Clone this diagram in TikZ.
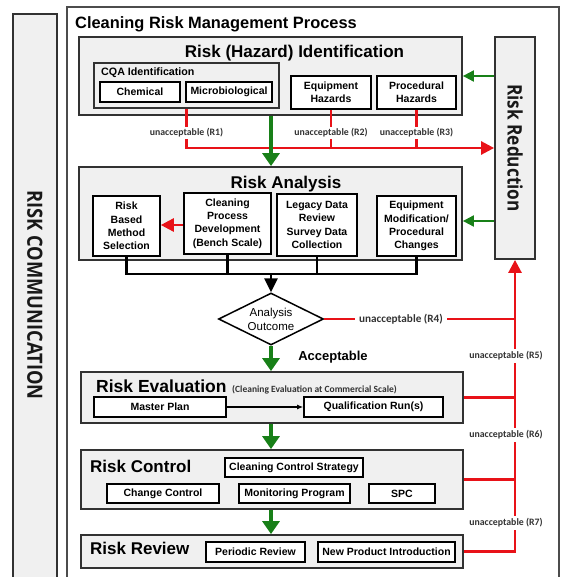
\documentclass[tikz,border=0pt]{standalone}
\usepackage{fontspec}
\setmainfont{Liberation Sans}
\newfontfamily\lblfont{Carlito}
\newfontfamily\commfont{Open Sans}
\usetikzlibrary{arrows.meta,shapes.geometric}
\definecolor{boxfill}{RGB}{240,240,240}
\definecolor{rred}{RGB}{232,18,24}
\definecolor{ggreen}{RGB}{24,128,24}
\definecolor{edge}{RGB}{50,50,50}
\begin{document}
\begin{tikzpicture}[x=1pt,y=-1pt,
 big/.style={draw=edge,line width=1.8pt,fill=boxfill,inner sep=0pt},
 sub/.style={draw=black,line width=1.6pt,fill=white,inner sep=0pt,align=center,font=\bfseries\fontsize{10.5}{13.3}\selectfont},
 ttl/.style={inner sep=0pt,font=\bfseries\fontsize{17}{20}\selectfont},
 lbl/.style={fill=white,inner sep=1.5pt,font=\lblfont\bfseries\fontsize{9.8}{11}\selectfont,text=black!80},
 redl/.style={draw=rred,line width=2.6pt},
 redarr/.style={redl,-{Triangle[width=13pt,length=13pt]}},
 grnarr/.style={draw=ggreen,line width=4pt,-{Triangle[width=17pt,length=13pt]}},
 grnsm/.style={draw=ggreen,line width=2pt,-{Triangle[width=11pt,length=11pt]}},
 bus/.style={draw=black,line width=2.6pt}]
\useasboundingbox (0,0) rectangle (568,577);
\clip (0,0) rectangle (568,577);
% left bar
\draw[draw=edge,line width=1.5pt,fill=boxfill] (13,14) rectangle (57,600);
\node[rotate=-90,inner sep=0pt,font=\commfont\bfseries\fontsize{21}{24}\selectfont,text=black!90] (commtxt) at (35,295) {\scalebox{0.87}[1]{RISK COMMUNICATION}};
% main frame
\draw[draw=black!70,line width=1.3pt] (67,7) rectangle (559,600);
\node[inner sep=0pt,anchor=base west,font=\bfseries\fontsize{16.4}{19}\selectfont] (title) at (75,29) {Cleaning Risk Management Process};
% identification
\node[big,minimum width=383pt,minimum height=78pt] (ident) at (270.5,76) {};
\node[ttl,anchor=base] (identt) at (294.5,58) {Risk (Hazard) Identification};
\node[big,line width=1.6pt,minimum width=185pt,minimum height=45pt] (cqa) at (186.5,85.5) {};
\node[inner sep=0pt,anchor=base west,font=\bfseries\fontsize{10.7}{12}\selectfont] (cqat) at (101,76) {CQA Identification};
\node[sub,minimum width=80pt,minimum height=20pt] (chem) at (140,92) {Chemical};
\node[sub,minimum width=86pt,minimum height=20pt] (micro) at (229,92) {Microbiological};
\node[sub,minimum width=80pt,minimum height=33pt] (eqh) at (331,92.5) {Equipment\\Hazards};
\node[sub,minimum width=79pt,minimum height=33pt] (proc) at (416.5,92.5) {Procedural\\Hazards};
% risk reduction
\node[big,minimum width=40pt,minimum height=222pt] (rr) at (515,148) {};
\node[rotate=-90,inner sep=0pt,font=\commfont\bfseries\fontsize{20}{22}\selectfont,text=black!90] (rrt) at (rr.center) {\scalebox{0.86}[1]{Risk Reduction}};
% analysis
\node[big,minimum width=383pt,minimum height=93pt] (anal) at (270.5,213.5) {};
\node[ttl,anchor=base] (analt) at (286,189) {Risk Analysis};
\node[sub,minimum width=67pt,minimum height=60pt] (rbm) at (126.5,226) {Risk\\Based\\Method\\Selection};
\node[sub,minimum width=87pt,minimum height=61pt] (cpd) at (227.5,223.5) {Cleaning\\Process\\Development\\(Bench Scale)};
\node[sub,minimum width=80pt,minimum height=62pt] (leg) at (317,225) {Legacy Data\\Review\\Survey Data\\Collection};
\node[sub,minimum width=79pt,minimum height=60pt] (eqm) at (416.5,226) {Equipment\\Modification/\\Procedural\\Changes};
% diamond
\node[diamond,aspect=2,draw=black,line width=1.5pt,fill=white,inner sep=0pt,minimum width=105pt,minimum height=52pt,align=center,font=\fontsize{11.5}{14}\selectfont] (diam) at (271,319) {Analysis\\Outcome};
\node[inner sep=0pt,font=\bfseries\fontsize{13}{15}\selectfont] (acc) at (333,357) {Acceptable};
% evaluation
\node[big,minimum width=382pt,minimum height=51pt] (eval) at (272,397.5) {};
\node[ttl,anchor=base west,font=\bfseries\fontsize{17.5}{20}\selectfont] (evalt) at (96,392) {Risk Evaluation};
\node[inner sep=0pt,anchor=base west,font=\lblfont\bfseries\fontsize{9.5}{11}\selectfont,text=black!80] (evals) at (232,392) {(Cleaning Evaluation at Commercial Scale)};
\node[sub,minimum width=132pt,minimum height=20pt] (mp) at (160,407) {Master Plan};
\node[sub,minimum width=139pt,minimum height=20pt] (qr) at (373.5,407) {Qualification Run(s)};
% control
\node[big,minimum width=382pt,minimum height=59pt] (ctrl) at (272,479.5) {};
\node[ttl,anchor=base west] (ctrlt) at (90,472) {Risk Control};
\node[sub,minimum width=138pt,minimum height=19pt] (ccs) at (294,467.5) {Cleaning Control Strategy};
\node[sub,minimum width=112pt,minimum height=19pt] (cc) at (163,493.5) {Change Control};
\node[sub,minimum width=111pt,minimum height=19pt] (mon) at (294.5,493.5) {Monitoring Program};
\node[sub,minimum width=66pt,minimum height=19pt] (spc) at (402,493.5) {SPC};
% review
\node[big,minimum width=382pt,minimum height=33pt] (rev) at (272,551.5) {};
\node[ttl,anchor=base west] (revt) at (90,554) {Risk Review};
\node[sub,minimum width=99pt,minimum height=20pt] (per) at (255.5,552) {Periodic Review};
\node[sub,minimum width=137pt,minimum height=20pt] (npi) at (386.5,552) {New Product Introduction};
% coordinates
\coordinate (busL) at (126.5,274);
\coordinate (ga) at (0,221);
\coordinate (gx) at (271,0);
% connectors: identification
\draw[redarr] (cqa.south) |- (rr.west);
\draw[redl] (eqh.south) -- (eqh.south |- rr.west);
\draw[redl] (proc.south) -- (proc.south |- rr.west);
\node[lbl] (l1) at (186.5,133) {unacceptable (R1)};
\node[lbl] (l2) at (331,133) {unacceptable (R2)};
\node[lbl] (l3) at (416.5,133) {unacceptable (R3)};
\draw[grnsm] (rr.west |- ident.east) -- (ident.east);
\draw[grnarr] (gx |- ident.south) -- (gx |- anal.north);
% analysis
\draw[redarr] (cpd.west |- 0,225) -- (rbm.east |- 0,225);
\draw[grnsm] (rr.west |- ga) -- (anal.east |- ga);
\draw[bus] (rbm.south) -- (rbm.south |- busL) -- (eqm.south |- busL) -- (eqm.south);
\draw[bus] (cpd.south) -- (cpd.south |- busL);
\draw[bus] (leg.south) -- (leg.south |- busL);
\draw[bus,-{Triangle[width=13pt,length=14pt]}] (diam.north |- busL) -- (diam.north);
% outcome
\draw[redl] (diam.east) -- (diam.east -| rr.south);
\draw[redarr] (rev.east) -| (rr.south);
\draw[redl] (eval.east) -- (eval.east -| rr.south);
\draw[redl] (ctrl.east) -- (ctrl.east -| rr.south);
\node[lbl,font=\lblfont\bfseries\fontsize{11.2}{13}\selectfont,inner sep=4pt] (l4) at (401,319) {unacceptable (R4)};
\node[lbl,inner sep=3pt] (l5) at (506,356) {unacceptable (R5)};
\node[lbl,inner sep=3pt] (l6) at (506,435) {unacceptable (R6)};
\node[lbl,inner sep=3pt] (l7) at (506,523) {unacceptable (R7)};
\draw[grnarr] (diam.south) -- (gx |- eval.north);
\draw[line width=1.2pt,-{Latex[length=6pt,width=5pt]}] (mp.east) -- (qr.west);
\draw[grnarr] (gx |- eval.south) -- (gx |- ctrl.north);
\draw[grnarr] (gx |- ctrl.south) -- (gx |- rev.north);
\end{tikzpicture}
\end{document}
